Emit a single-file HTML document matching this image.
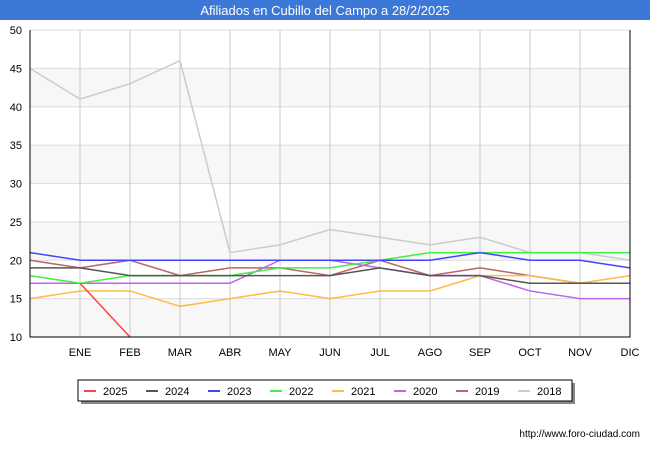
<!DOCTYPE html>
<html><head><meta charset="utf-8"><style>
body{margin:0;width:650px;height:450px;background:#fff;font-family:"Liberation Sans",sans-serif;overflow:hidden}
</style></head><body>
<svg width="650" height="450">
<rect x="0" y="0" width="650" height="20" fill="#3b78d8"/>
<text x="325" y="15" text-anchor="middle" fill="#fff" font-size="13">Afiliados en Cubillo del Campo a 28/2/2025</text>
<g id="plot"></g>
<text x="640" y="437" text-anchor="end" font-size="10" fill="#000">http://www.foro-ciudad.com</text>
</svg>
<script>
const months=["","ENE","FEB","MAR","ABR","MAY","JUN","JUL","AGO","SEP","OCT","NOV","DIC"];
const yTicks=[10,15,20,25,30,35,40,45,50];
const seriesNames=["2025","2024","2023","2022","2021","2020","2019","2018"];
const seriesColors=["#ff4444","#555555","#4444ff","#44ee44","#ffbb44","#bb66ee","#bb6666","#cccccc"];
const s2025=[null,17,10];
const s2024=[19,19,18,18,18,18,18,19,18,18,17,17,17];
const s2023=[21,20,20,20,20,20,20,20,20,21,20,20,19];
const s2022=[18,17,18,18,18,19,19,20,21,21,21,21,21];
const s2021=[15,16,16,14,15,16,15,16,16,18,18,17,18];
const s2020=[17,17,17,17,17,20,20,19,18,18,16,15,15];
const s2019=[20,19,20,18,19,19,18,20,18,19,18,17,17];
const s2018=[45,41,43,46,21,22,24,23,22,23,21,21,20];
const seriesData=[s2025,s2024,s2023,s2022,s2021,s2020,s2019,s2018];
const X0=30,X1=630,Y0=337,Y1=30,ymin=10,ymax=50;
const xs=i=>X0+(X1-X0)*i/(months.length-1);
const ys=v=>Y0-(v-ymin)/(ymax-ymin)*(Y0-Y1);
const NS="http://www.w3.org/2000/svg";
const g=document.getElementById("plot");
function mk(t,a){const e=document.createElementNS(NS,t);for(const k in a)e.setAttribute(k,a[k]);return e;}
const bg=mk("rect",{x:X0,y:Y1,width:X1-X0,height:Y0-Y1,fill:"#ffffff"});


g.appendChild(bg);
for(let i=0;i<yTicks.length-1;i++){
  if(i%2===0){const b=mk("rect",{x:X0,y:ys(yTicks[i+1]),width:X1-X0,height:ys(yTicks[i])-ys(yTicks[i+1]),fill:"#f7f7f7"});
  
  
  g.appendChild(b);}
}
yTicks.forEach(v=>{
  const l=mk("line",{x1:X0,x2:X1,y1:ys(v),y2:ys(v),stroke:"#dddddd"});
  
  
  g.appendChild(l);
  const t=mk("text",{x:X0-8,y:ys(v)+4,"text-anchor":"end","font-size":"11",fill:"#000"});
  t.textContent=v;
  
  
  g.appendChild(t);
});
months.forEach((m,i)=>{
  if(i===0)return;
  const l=mk("line",{x1:xs(i),x2:xs(i),y1:Y1,y2:Y0,stroke:"#c8c8c8"});
  
  
  g.appendChild(l);
  const t=mk("text",{x:xs(i),y:Y0+19,"text-anchor":"middle","font-size":"11",fill:"#000"});
  t.textContent=m;
  
  
  g.appendChild(t);
});
for(let k=seriesData.length-1;k>=0;k--){
  const d=seriesData[k];let pts=[];
  d.forEach((v,i)=>{if(v!==null)pts.push(xs(i)+","+ys(v));});
  const p=mk("polyline",{points:pts.join(" "),fill:"none",stroke:seriesColors[k],"stroke-width":"1.5"});
  
  
  g.appendChild(p);
}
const ax=mk("path",{d:`M${X0},${Y1}V${Y0}H${X1}V${Y1}`,fill:"none",stroke:"#000"});


g.appendChild(ax);
const lg=mk("g",{});


lg.appendChild(mk("rect",{x:81,y:383,width:494,height:21,fill:"#888"}));
lg.appendChild(mk("rect",{x:78,y:380,width:494,height:21,fill:"#fff",stroke:"#000"}));
seriesNames.forEach((n,k)=>{
  const x0=84+k*62;
  const e=mk("g",{});
  
  
  e.appendChild(mk("line",{x1:x0,x2:x0+12,y1:391,y2:391,stroke:seriesColors[k],"stroke-width":"2"}));
  const t=mk("text",{x:x0+19,y:395,"font-size":"11",fill:"#000"});
  t.textContent=n;
  e.appendChild(t);
  lg.appendChild(e);
});
g.appendChild(lg);
</script>
</body></html>
